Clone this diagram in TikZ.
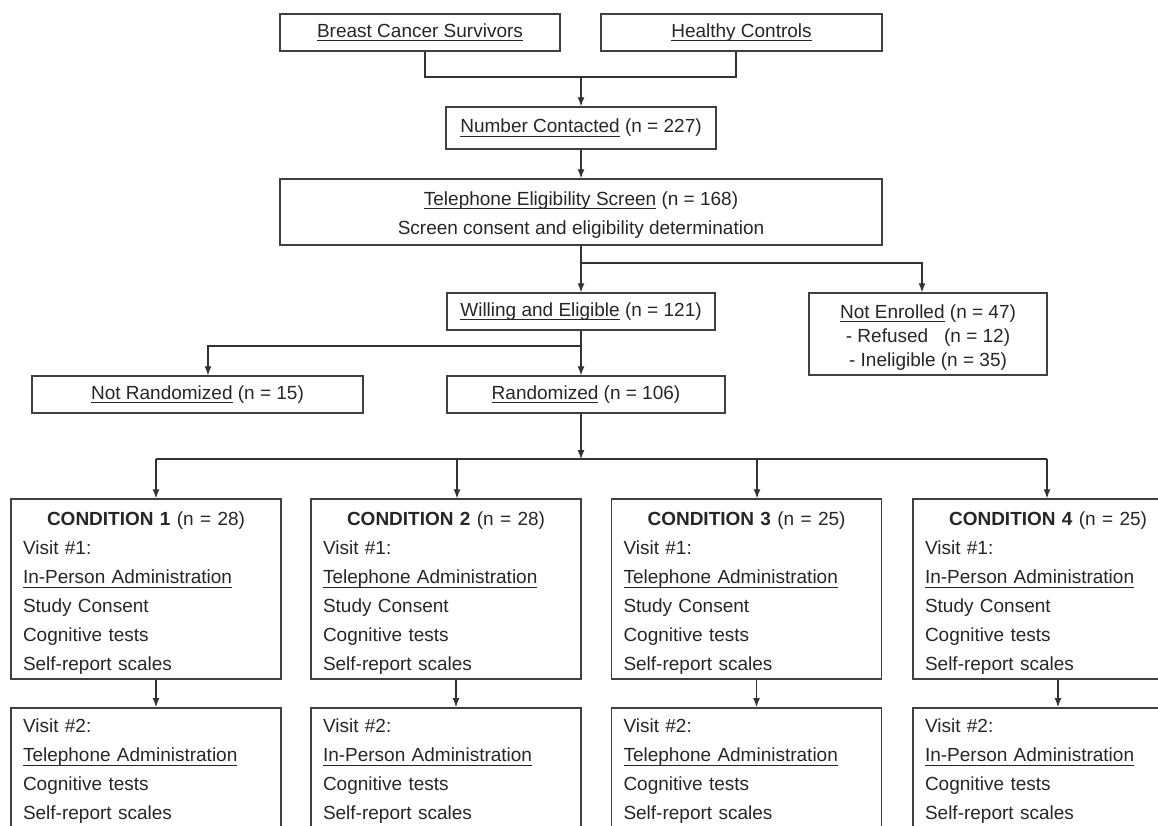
\documentclass[tikz,border=0pt]{standalone}
\usepackage{fontspec}
\setmainfont{Liberation Sans}
\usetikzlibrary{arrows.meta}
\newsavebox\undlbox
\newcommand{\undl}[1]{\leavevmode\sbox\undlbox{#1}\rlap{\rule[-4.2pt]{\wd\undlbox}{1.1pt}}\usebox\undlbox}

\begin{document}
\begin{tikzpicture}[x=1pt,y=-1pt,
		box/.style={draw=black!75,line width=1.5pt,text=black!85,inner sep=0pt,
			font=\fontsize{19}{29}\selectfont,align=center},
		cond/.style={box,text width=246pt,inner xsep=12pt,align=left},
		line/.style={draw=black!80,line width=1.1pt},
		arr/.style={line,-{Latex[length=9pt,width=7pt]}}]
			\useasboundingbox (0,0) rectangle (1158,825);
			\clip (0,0) rectangle (1158,825);

			\node (bcs) at (420,32.5)[box,minimum width=280pt,minimum height=37pt]{\undl{Breast Cancer Survivors}};
			\node (hc) at (741.5,32.5)[box,minimum width=281pt,minimum height=37pt]{\undl{Healthy Controls}};
			\node (nc) at (581,128)[box,minimum width=270pt,minimum height=42pt]{\undl{Number Contacted} (n = 227)};
			\node (tel) at (581,212)[box,minimum width=602pt,minimum height=66pt]{\rule{0pt}{19pt}\undl{Telephone Eligibility Screen} (n = 168)\\Screen consent and eligibility determination};
			\node (we) at (581,311.5)[box,minimum width=268pt,minimum height=37pt]{\undl{Willing and Eligible} (n = 121)};
			\node (ne) at (928,334)[box,minimum width=238pt,minimum height=82pt,font=\fontsize{19}{24}\selectfont,text depth=4pt]{\rule{0pt}{20pt}\undl{Not Enrolled} (n = 47)\\- Refused~~~(n = 12)\\- Ineligible (n = 35)};
			\node (nr) at (197.5,394.5)[box,minimum width=331pt,minimum height=37pt]{\undl{Not Randomized} (n = 15)};
			\node (rd) at (586,394.5)[box,minimum width=278pt,minimum height=37pt]{\undl{Randomized} (n = 106)};

			\node (c1) at (146,589)[cond,minimum height=180pt]{\makebox[\linewidth]{\rule{0pt}{22pt}\textbf{CONDITION 1} (n = 28)}\\Visit \#1:\\\undl{In-Person Administration}\\Study Consent\\Cognitive tests\\Self-report scales};
			\node (c2) at (446,589)[cond,minimum height=180pt]{\makebox[\linewidth]{\rule{0pt}{22pt}\textbf{CONDITION 2} (n = 28)}\\Visit \#1:\\\undl{Telephone Administration}\\Study Consent\\Cognitive tests\\Self-report scales};
			\node (c3) at (746.5,589)[cond,minimum height=180pt]{\makebox[\linewidth]{\rule{0pt}{22pt}\textbf{CONDITION 3} (n = 25)}\\Visit \#1:\\\undl{Telephone Administration}\\Study Consent\\Cognitive tests\\Self-report scales};
			\node (c4) at (1048,589)[cond,minimum height=180pt]{\makebox[\linewidth]{\rule{0pt}{22pt}\textbf{CONDITION 4} (n = 25)}\\Visit \#1:\\\undl{In-Person Administration}\\Study Consent\\Cognitive tests\\Self-report scales};

			\node (v1) at (146,707)[cond,anchor=north,inner ysep=11pt]{Visit \#2:\\\undl{Telephone Administration}\\Cognitive tests\\Self-report scales};
			\node (v2) at (446,707)[cond,anchor=north,inner ysep=11pt]{Visit \#2:\\\undl{In-Person Administration}\\Cognitive tests\\Self-report scales};
			\node (v3) at (746.5,707)[cond,anchor=north,inner ysep=11pt]{Visit \#2:\\\undl{Telephone Administration}\\Cognitive tests\\Self-report scales};
			\node (v4) at (1048,707)[cond,anchor=north,inner ysep=11pt]{Visit \#2:\\\undl{In-Person Administration}\\Cognitive tests\\Self-report scales};

			\coordinate (j1) at (581,77);
			\draw[line] ([xshift=5pt]bcs.south) |- (j1) -| ([xshift=-5.5pt]hc.south);
			\draw[arr] (j1) -- (nc.north);
			\draw[arr] (nc) -- (tel);

			\coordinate (j2) at (581,263);
			\coordinate (j3) at (922,263);
			\draw[arr] (tel.south) |- (j3) -- (j3 |- ne.north);
			\draw[arr] (j2) -- (we.north);

			\coordinate (j4) at (208,346);
			\draw[arr] (we.south) -- (we.south |- rd.north);
			\draw[arr] (we.south |- j4) -- (j4) -- (j4 |- nr.north);

			\coordinate (hub) at (581,459);
			\draw[arr] (rd.south -| hub) -- (hub);
			\coordinate (r1) at (156,459);
			\coordinate (r2) at (457,459);
			\coordinate (r3) at (757,459);
			\coordinate (r4) at (1047,459);
			\draw[line] (r1) -- (r4);
			\draw[arr] (r1) -- (r1 |- c1.north);
			\draw[arr] (r2) -- (r2 |- c2.north);
			\draw[arr] (r3) -- (r3 |- c3.north);
			\draw[arr] (r4) -- (r4 |- c4.north);

			\draw[arr] ([xshift=10pt]c1.south) -- ([xshift=10pt]v1.north);
			\draw[arr] ([xshift=10pt]c2.south) -- ([xshift=10pt]v2.north);
			\draw[arr] ([xshift=10pt]c3.south) -- ([xshift=10pt]v3.north);
			\draw[arr] ([xshift=10pt]c4.south) -- ([xshift=10pt]v4.north);
		\end{tikzpicture}
\end{document}
